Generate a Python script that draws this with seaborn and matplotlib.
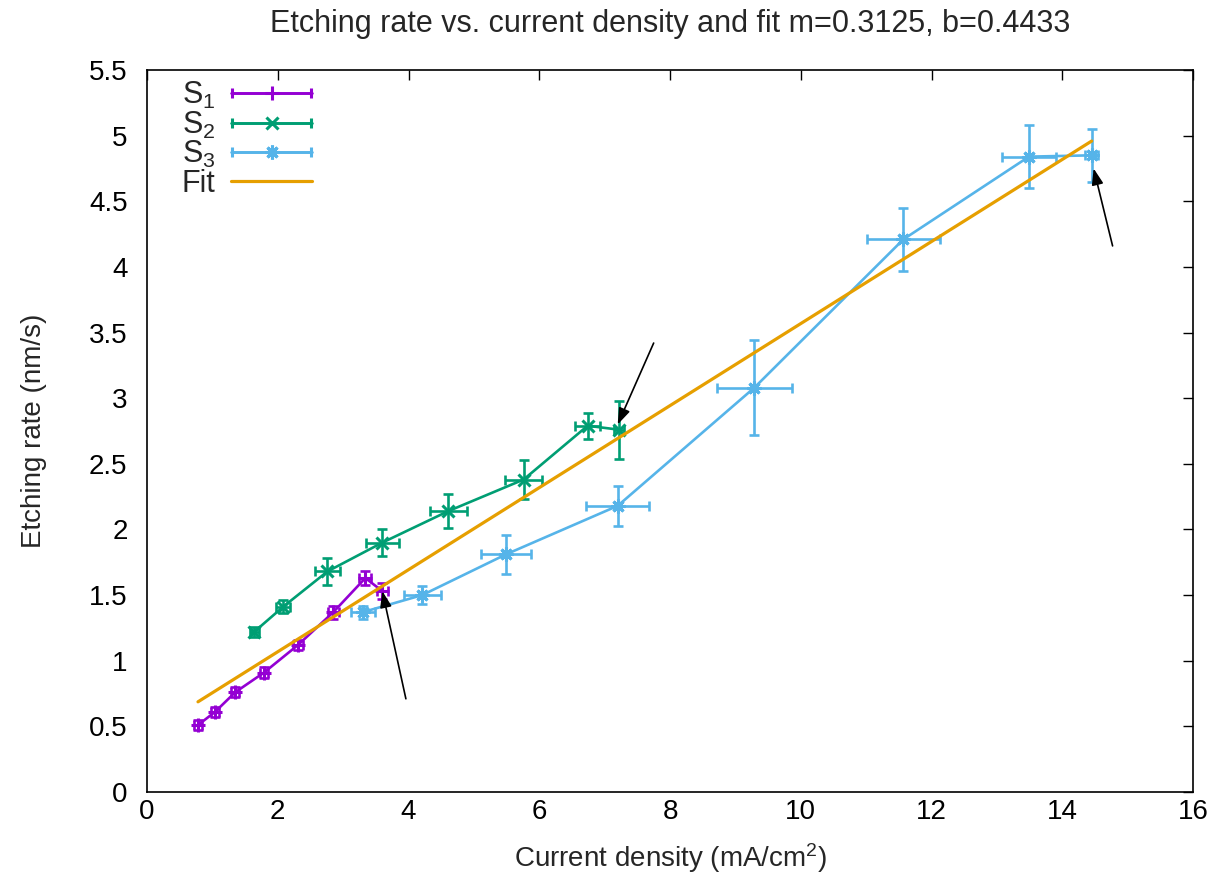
import numpy as np
import pandas as pd
import matplotlib
matplotlib.use("Agg")
import matplotlib.pyplot as plt
import seaborn as sns
from matplotlib.legend_handler import HandlerErrorbar

# ---- data ----
s1_x = [0.78, 1.04, 1.35, 1.79, 2.31, 2.85, 3.34, 3.60]
s1_y = [0.51, 0.61, 0.76, 0.91, 1.12, 1.37, 1.63, 1.53]
s1_xerr = [0.06, 0.06, 0.06, 0.06, 0.07, 0.08, 0.09, 0.08]
s1_yerr = [0.04, 0.04, 0.04, 0.04, 0.04, 0.05, 0.05, 0.06]

s2_x = [1.64, 2.08, 2.76, 3.60, 4.61, 5.76, 6.74, 7.22]
s2_y = [1.22, 1.41, 1.68, 1.90, 2.14, 2.38, 2.79, 2.76]
s2_xerr = [0.07, 0.10, 0.19, 0.25, 0.28, 0.28, 0.19, 0.08]
s2_yerr = [0.04, 0.05, 0.10, 0.10, 0.13, 0.15, 0.10, 0.22]

s3_x = [3.30, 4.21, 5.49, 7.20, 9.29, 11.57, 13.49, 14.45]
s3_y = [1.37, 1.50, 1.81, 2.18, 3.08, 4.21, 4.84, 4.85]
s3_xerr = [0.18, 0.28, 0.38, 0.48, 0.57, 0.56, 0.41, 0.10]
s3_yerr = [0.05, 0.07, 0.15, 0.15, 0.36, 0.24, 0.24, 0.20]

fit_m = 0.3125
fit_b = 0.4433
fit_x = [0.78, 14.45]

# arrows: (tail, head)
arrow_tails = [(3.96, 0.71), (7.75, 3.42), (14.77, 4.16)]
arrow_heads = [(3.60, 1.53), (7.20, 2.80), (14.48, 4.75)]

series_names = ["S$_1$", "S$_2$", "S$_3$"]
colors = ["#9400D3", "#009E73", "#56B4E9"]
fit_color = "#E69F00"

sns.set_style("white")
plt.rcParams["font.family"] = ["Liberation Sans", "DejaVu Sans"]
plt.rcParams["mathtext.fontset"] = "custom"
plt.rcParams["mathtext.rm"] = "Liberation Sans"
plt.rcParams["mathtext.it"] = "Liberation Sans"
plt.rcParams["mathtext.default"] = "regular"

fig = plt.figure(figsize=(12.26, 8.76), dpi=100)
ax = fig.add_axes([147 / 1226, 1 - 792 / 876, (1193 - 147) / 1226, (792 - 70) / 876])

data = [(s1_x, s1_y, s1_xerr, s1_yerr), (s2_x, s2_y, s2_xerr, s2_yerr),
        (s3_x, s3_y, s3_xerr, s3_yerr)]
markers = ["+", "x", (8, 2, 0)]
msizes = [10, 9, 10]
handles = []
for (x, y, xe, ye), name, c, mk, ms in zip(data, series_names, colors, markers, msizes):
    df = pd.DataFrame({"x": x, "y": y})
    sns.lineplot(data=df, x="x", y="y", sort=False, color=c, lw=1.9,
                 marker=mk, markersize=ms, markeredgewidth=2.2,
                 markeredgecolor=c, ax=ax, zorder=3)
    ax.errorbar(x, y, xerr=xe, yerr=ye, fmt="none", ecolor=c,
                elinewidth=1.9, capsize=3.5, capthick=1.9, zorder=3)
    h = ax.errorbar([np.nan], [np.nan], xerr=[1], fmt="-", marker=mk,
                    color=c, lw=1.9, ms=ms, mew=2.2, capsize=3.5, capthick=1.9,
                    label=name)
    handles.append(h)

fdf = pd.DataFrame({"x": fit_x, "y": [fit_m * v + fit_b for v in fit_x]})
sns.lineplot(data=fdf, x="x", y="y", color=fit_color, lw=2.3, ax=ax, zorder=4)
fit_handle = plt.Line2D([], [], color=fit_color, lw=2.3)

for t, hd in zip(arrow_tails, arrow_heads):
    ax.annotate("", xy=hd, xytext=t,
                arrowprops=dict(arrowstyle="-|>,head_length=0.7,head_width=0.25",
                                color="black", lw=1.2,
                                mutation_scale=14, shrinkA=0, shrinkB=0),
                zorder=5)

ax.set_xlim(0, 16)
ax.set_ylim(0, 5.5)
ax.set_xticks(np.arange(0, 17, 2))
ax.set_yticks(np.arange(0, 5.51, 0.5))
ax.set_yticklabels(["0", "0.5", "1", "1.5", "2", "2.5", "3", "3.5", "4", "4.5", "5", "5.5"])
ax.tick_params(direction="in", length=7, width=1, top=True, right=True,
               labelsize=20, colors="black")
ax.tick_params(axis="y", pad=14)
ax.tick_params(axis="x", pad=5)
for sp in ax.spines.values():
    sp.set_color("black")
    sp.set_linewidth(1.2)

ax.set_xlabel("Current density (mA/cm$^2$)", fontsize=20, labelpad=12)
ax.set_ylabel("Etching rate (nm/s)", fontsize=20, labelpad=30)
ax.set_title("Etching rate vs. current density and fit m=0.3125, b=0.4433",
             fontsize=22, pad=27)

leg = ax.legend(handles + [fit_handle], series_names + ["Fit"],
                loc="upper left", bbox_to_anchor=(0.013, 1.016), frameon=False,
                markerfirst=False, fontsize=22, handlelength=2.65,
                handletextpad=0.5, labelspacing=-0.05, borderpad=0.2,
                handler_map={type(handles[0]): HandlerErrorbar(xerr_size=1.28)})

fig.savefig("out.png", dpi=100)
